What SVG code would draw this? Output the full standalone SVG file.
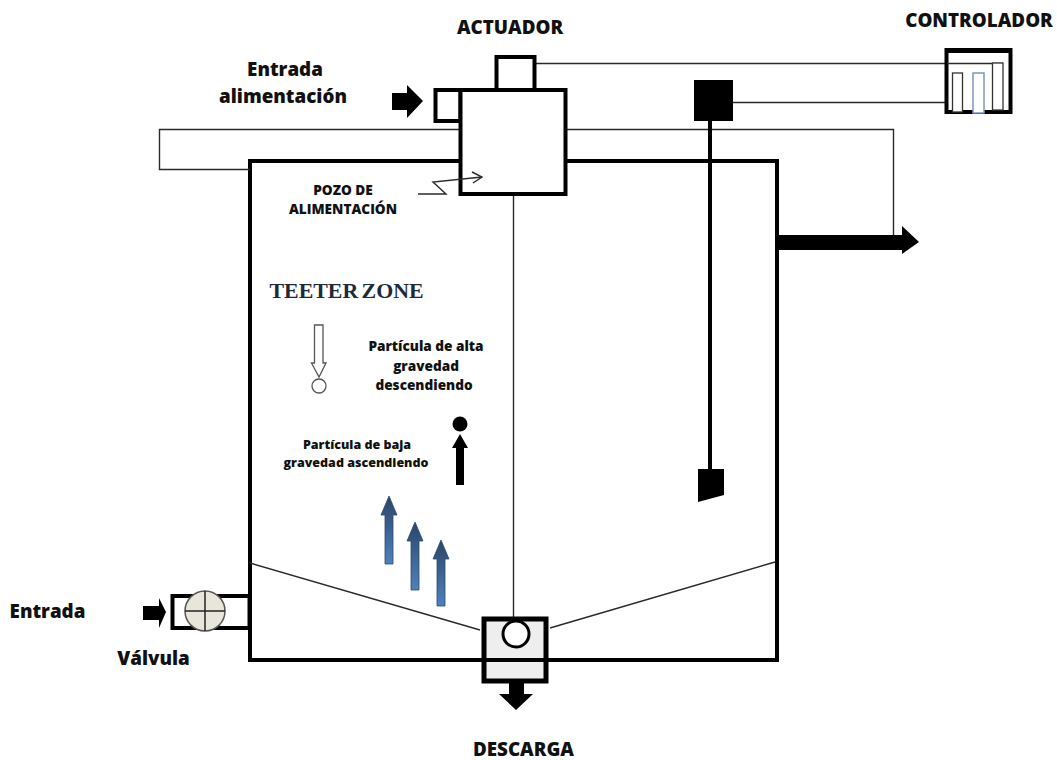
<svg xmlns="http://www.w3.org/2000/svg" width="1057" height="760" viewBox="0 0 1057 760">
<style>
.l{font-family:"Open Sans","Noto Sans","Liberation Sans",sans-serif;font-weight:800;fill:#111;text-anchor:middle}
.big{font-size:18.800px}
.mid{font-size:13.600px}
.sm{font-size:12.500px}
.thick{fill:none;stroke:#000;stroke-width:4}
.thin{fill:none;stroke:#2a2a2a;stroke-width:1.400}
.k{fill:#000}
.blue{fill:url(#bg);stroke:#2c4a70;stroke-width:.8}
</style>
<defs>
<linearGradient id="bg" x1="0" y1="0" x2="0" y2="1"><stop offset="0" stop-color="#2b4568"/><stop offset="1" stop-color="#4f81bd"/></linearGradient>
</defs>
<rect width="1057" height="760" fill="#fff"/>
<g id="tank"><rect class="thick" x="250" y="161" width="527" height="499"/></g>
<g id="connectors">
<polyline class="thin" points="460,129.500 159.500,129.500 159.500,169.500 250,169.500"/>
<polyline class="thin" points="566,129.500 893.500,129.500 893.500,236"/>
<line class="thin" x1="535" y1="63.500" x2="946" y2="63.500"/>
<line class="thin" x1="733" y1="102.500" x2="946" y2="102.500"/>
<line class="thin" x1="513.500" y1="194" x2="513.500" y2="618"/>
<line class="thin" x1="250" y1="563" x2="480" y2="630"/>
<line class="thin" x1="550" y1="628" x2="775" y2="562"/>
</g>
<g id="outlet-arrow"><polygon class="k" points="777,235 902,235 902,226 919,242 902,254 902,250 777,250"/></g>
<g id="actuator">
<rect x="496.500" y="57" width="38" height="33" fill="#fff" stroke="#000" stroke-width="4"/>
<rect x="435.500" y="90" width="25" height="31" fill="#fff" stroke="#000" stroke-width="4"/>
<rect x="460.500" y="90" width="105" height="104" fill="#fff" stroke="#000" stroke-width="4"/>
<polyline class="thin" points="418,194 446,194 433,182 482,177"/>
<polyline class="thin" points="472,172 482,177 473,183"/>
<text class="l big" x="510" y="34">ACTUADOR</text>
</g>
<g id="feed-inlet">
<polygon class="k" points="392,93 407,93 407,85 423,101 407,118 407,110 392,110"/>
<text class="l big" x="285" y="76">Entrada</text>
<text class="l big" x="283" y="103">alimentación</text>
</g>
<g id="feed-well"><text class="l mid" x="343" y="195">POZO DE</text><text class="l mid" x="343" y="214">ALIMENTACIÓN</text></g>
<g id="controller">
<rect x="946.500" y="50" width="64" height="62" fill="none" stroke="#000" stroke-width="4"/>
<rect class="k" x="946" y="48" width="66" height="5"/>
<line class="thin" x1="947" y1="63.500" x2="1003" y2="63.500"/>
<rect x="952.500" y="73" width="10" height="39" fill="#fff" stroke="#333" stroke-width="1.300"/>
<rect x="992.500" y="63" width="10.500" height="47" fill="#fff" stroke="#333" stroke-width="1.300"/>
<rect x="973" y="73" width="11" height="40" fill="#fff" stroke="#7f97bb" stroke-width="1.500"/>
<text class="l big" x="979" y="27">CONTROLADOR</text>
</g>
<g id="level-sensor">
<rect class="k" x="694" y="80" width="39" height="41"/>
<rect class="k" x="708" y="121" width="4" height="350"/>
<polygon class="k" points="698,469 724,469 724,495 698,502"/>
</g>
<g id="teeter"><text x="346.500" y="298" text-anchor="middle" font-family="'Liberation Serif',serif" font-weight="700" font-size="21" word-spacing="-2" fill="#1d2a3a" textLength="154" lengthAdjust="spacingAndGlyphs">TEETER ZONE</text></g>
<g id="high-gravity">
<polygon points="314.500,325 323,325 323,363 326,363 319,377 311.500,363 314.500,363" fill="#fff" stroke="#555" stroke-width="1.300"/>
<circle cx="319" cy="386" r="7" fill="#fff" stroke="#555" stroke-width="1.300"/>
<text class="l mid" x="426" y="351">Partícula de alta</text>
<text class="l mid" x="426" y="371">gravedad</text>
<text class="l mid" x="424" y="390">descendiendo</text>
</g>
<g id="low-gravity">
<circle class="k" cx="460" cy="424" r="7.500"/>
<polygon class="k" points="460,434 468,448 464,448 464,485 456,485 456,448 452,448"/>
<text class="l sm" x="357" y="449">Partícula de baja</text>
<text class="l sm" x="356" y="467">gravedad ascendiendo</text>
</g>
<g id="flow-arrows">
<polygon class="blue" points="389,496 397,515 393,515 393,564 385,564 385,515 381,515"/>
<polygon class="blue" points="415,522 423,541 419,541 419,590 411,590 411,541 407,541"/>
<polygon class="blue" points="441,540 449,559 445,559 445,606 437,606 437,559 433,559"/>
</g>
<g id="valve">
<rect x="172.500" y="596" width="77" height="32" fill="none" stroke="#000" stroke-width="4"/>
<circle cx="205" cy="611" r="20" fill="#e8e6da" stroke="#555" stroke-width="1.500"/>
<line x1="205" y1="591" x2="205" y2="631" stroke="#222" stroke-width="1.500"/>
<line x1="185" y1="611" x2="225" y2="611" stroke="#222" stroke-width="1.500"/>
<polygon class="k" points="143,606 159,606 159,598 166,612 159,628 159,620 143,620"/>
<text class="l big" x="47.500" y="618">Entrada</text>
<text class="l big" x="153.500" y="665">Válvula</text>
</g>
<g id="discharge">
<rect x="484" y="619" width="62" height="62" fill="#eee" stroke="#000" stroke-width="5"/>
<line x1="482" y1="660" x2="547" y2="660" stroke="#000" stroke-width="4"/>
<circle cx="516" cy="634" r="13" fill="#fff" stroke="#000" stroke-width="3"/>
<polygon class="k" points="509,683 524,683 524,694 533,694 516,710 499,694 509,694"/>
<text class="l big" x="523.500" y="756">DESCARGA</text>
</g>
</svg>
